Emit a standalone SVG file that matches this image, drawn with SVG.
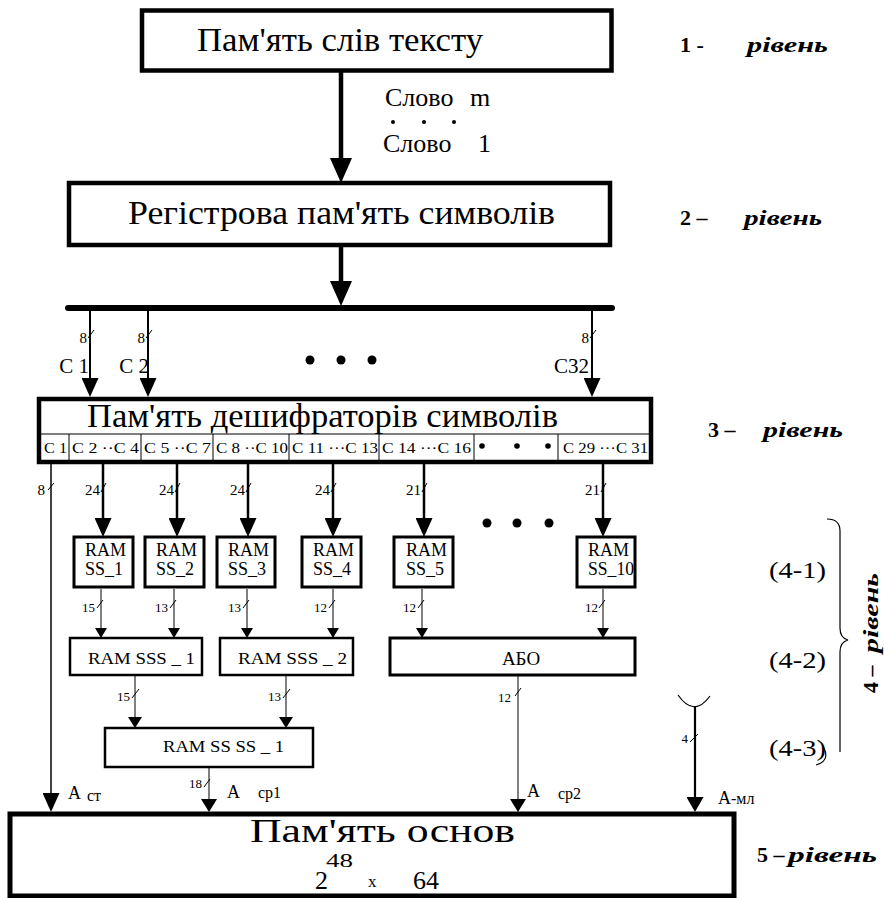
<svg xmlns="http://www.w3.org/2000/svg" width="884" height="898" viewBox="0 0 884 898" font-family="'Liberation Serif', 'Times New Roman', serif">
<defs>
<style>
text{fill:#000}
.box{fill:#fff;stroke:#000}
.ln{stroke:#000;fill:none}
.lv{font-weight:bold;font-size:22px}
.lvi{font-weight:bold;font-style:italic;font-size:22px}
.bw{font-size:15px}
.bs{font-size:13px}
.cell{font-size:14px}
.ram{font-size:18px}
.tk{stroke:#000;stroke-width:1;fill:none}
.big{font-size:33px}
</style>
<marker id="aL" viewBox="0 0 25 22" markerWidth="25" markerHeight="22" refX="0" refY="11" orient="auto" markerUnits="userSpaceOnUse"><path d="M0,0L25,11L0,22Z"/></marker>
<marker id="aM" viewBox="0 0 19 17" markerWidth="19" markerHeight="17" refX="0" refY="8.5" orient="auto" markerUnits="userSpaceOnUse"><path d="M0,0L19,8.5L0,17Z"/></marker>
<marker id="aM2" viewBox="0 0 15 17" markerWidth="15" markerHeight="17" refX="0" refY="8.5" orient="auto" markerUnits="userSpaceOnUse"><path d="M0,0L15,8.5L0,17Z"/></marker>
<marker id="aS" viewBox="0 0 10 12" markerWidth="10" markerHeight="12" refX="0" refY="6" orient="auto" markerUnits="userSpaceOnUse"><path d="M0,0L10,6L0,12Z"/></marker>
<marker id="aS1" viewBox="0 0 11 14" markerWidth="11" markerHeight="14" refX="0" refY="7" orient="auto" markerUnits="userSpaceOnUse"><path d="M0,0L11,7L0,14Z"/></marker>
<marker id="aS2" viewBox="0 0 13 16" markerWidth="13" markerHeight="16" refX="0" refY="8" orient="auto" markerUnits="userSpaceOnUse"><path d="M0,0L13,8L0,16Z"/></marker>
</defs>
<rect width="884" height="898" fill="#fff"/>

<g id="connectors">
  <line class="ln" x1="341" y1="72" x2="341" y2="158" stroke-width="4.5" marker-end="url(#aL)"/>
  <line class="ln" x1="341" y1="247" x2="341" y2="281" stroke-width="4.5" marker-end="url(#aL)"/>
  <line class="ln" x1="68" y1="308" x2="612" y2="308" stroke-width="6" stroke-linecap="round"/>
  <line class="ln" x1="90" y1="311" x2="90" y2="378" stroke-width="2" marker-end="url(#aM)"/>
  <line class="ln" x1="148" y1="311" x2="148" y2="378" stroke-width="2" marker-end="url(#aM)"/>
  <line class="ln" x1="592" y1="311" x2="592" y2="378" stroke-width="2" marker-end="url(#aM)"/>
  <line class="ln" x1="51" y1="464" x2="51" y2="793" stroke-width="1.5" marker-end="url(#aM)"/>
  <line class="ln" x1="103" y1="464" x2="103" y2="518" stroke-width="2.5" marker-end="url(#aM)"/>
  <line class="ln" x1="177" y1="464" x2="177" y2="518" stroke-width="2.5" marker-end="url(#aM)"/>
  <line class="ln" x1="248" y1="464" x2="248" y2="518" stroke-width="2.5" marker-end="url(#aM)"/>
  <line class="ln" x1="333" y1="464" x2="333" y2="518" stroke-width="2.5" marker-end="url(#aM)"/>
  <line class="ln" x1="424" y1="464" x2="424" y2="518" stroke-width="2.5" marker-end="url(#aM)"/>
  <line class="ln" x1="603" y1="464" x2="603" y2="518" stroke-width="2.5" marker-end="url(#aM)"/>
  <line class="ln" x1="101" y1="589" x2="101" y2="628" stroke-width="1" marker-end="url(#aS)"/>
  <line class="ln" x1="174" y1="589" x2="174" y2="628" stroke-width="1" marker-end="url(#aS)"/>
  <line class="ln" x1="247" y1="589" x2="247" y2="628" stroke-width="1" marker-end="url(#aS)"/>
  <line class="ln" x1="333" y1="589" x2="333" y2="628" stroke-width="1" marker-end="url(#aS)"/>
  <line class="ln" x1="422" y1="589" x2="422" y2="628" stroke-width="1" marker-end="url(#aS)"/>
  <line class="ln" x1="603" y1="589" x2="603" y2="628" stroke-width="1" marker-end="url(#aS)"/>
  <line class="ln" x1="135" y1="676" x2="135" y2="717" stroke-width="1" marker-end="url(#aS1)"/>
  <line class="ln" x1="286" y1="676" x2="286" y2="717" stroke-width="1" marker-end="url(#aS1)"/>
  <line class="ln" x1="209" y1="768" x2="209" y2="799" stroke-width="1" marker-end="url(#aS2)"/>
  <line class="ln" x1="518" y1="676" x2="518" y2="799" stroke-width="1" marker-end="url(#aS2)"/>
  <line class="ln" x1="695" y1="706" x2="695" y2="797" stroke-width="2.2" marker-end="url(#aM2)"/>
  <path class="ln" d="M678,695 Q694,718 710,696" stroke-width="1.2"/>
  <g class="tk">
    <path d="M88,338L94,330"/><path d="M146,338L152,330"/><path d="M590,338L596,330"/>
    <path d="M48,490L54,483"/>
    <path d="M101,492L106,483"/><path d="M175,492L180,483"/><path d="M246,492L251,483"/><path d="M331,492L336,483"/><path d="M422,492L427,483"/><path d="M601,492L606,483"/>
    <path d="M97,608L103,600"/><path d="M170,608L176,600"/><path d="M243,608L249,600"/><path d="M329,608L335,600"/><path d="M418,608L424,600"/><path d="M599,608L605,600"/>
    <path d="M132,698L139,689"/><path d="M283,698L290,689"/><path d="M515,696L521,688"/><path d="M204,787L210,779"/><path d="M690,742L698,734"/>
  </g>
  <g class="bw">
    <text x="87" y="343" text-anchor="end">8</text>
    <text x="145" y="343" text-anchor="end">8</text>
    <text x="589" y="343" text-anchor="end">8</text>
    <text x="45" y="495" text-anchor="end">8</text>
    <text x="100" y="495" text-anchor="end">24</text>
    <text x="174" y="495" text-anchor="end">24</text>
    <text x="245" y="495" text-anchor="end">24</text>
    <text x="330" y="495" text-anchor="end">24</text>
    <text x="421" y="495" text-anchor="end">21</text>
    <text x="600" y="495" text-anchor="end">21</text>
  </g>
  <g class="bs">
    <text x="95" y="612" text-anchor="end">15</text>
    <text x="168" y="612" text-anchor="end">13</text>
    <text x="241" y="612" text-anchor="end">13</text>
    <text x="327" y="612" text-anchor="end">12</text>
    <text x="416" y="612" text-anchor="end">12</text>
    <text x="598" y="612" text-anchor="end">12</text>
    <text x="130" y="701" text-anchor="end">15</text>
    <text x="281" y="701" text-anchor="end">13</text>
    <text x="511" y="702" text-anchor="end">12</text>
    <text x="202" y="788" text-anchor="end">18</text>
    <text x="688" y="743" text-anchor="end">4</text>
  </g>
  <text x="385" y="106" font-size="26">Слово</text>
  <text x="470" y="106" font-size="26">m</text>
  <circle cx="393" cy="122" r="2"/><circle cx="424" cy="122" r="2"/><circle cx="454" cy="122" r="2"/>
  <text x="383" y="152" font-size="26">Слово</text>
  <text x="478" y="152" font-size="26">1</text>
  <text x="89" y="373" font-size="21" text-anchor="end">C 1</text>
  <text x="149" y="373" font-size="21" text-anchor="end">C 2</text>
  <text x="589" y="373" font-size="21" text-anchor="end">C32</text>
  <circle cx="310" cy="360" r="4.5"/><circle cx="341" cy="360" r="4.5"/><circle cx="372" cy="360" r="4.5"/>
  <circle cx="487" cy="523" r="4.5"/><circle cx="517" cy="523" r="4.5"/><circle cx="549" cy="523" r="4.5"/>
  <text x="68" y="799" font-size="18">А</text><text x="87" y="801" font-size="16">ст</text>
  <text x="227" y="798" font-size="18">А</text><text x="258" y="798" font-size="16">ср1</text>
  <text x="527" y="797" font-size="18">А</text><text x="558" y="799" font-size="16">ср2</text>
  <text x="718" y="804" font-size="18">А<tspan font-size="16">-мл</tspan></text>
</g>

<g id="n1">
  <rect class="box" x="142" y="10.5" width="469.5" height="60" stroke-width="4.5"/>
  <text class="big" x="197" y="51" textLength="286" lengthAdjust="spacingAndGlyphs">Пам'ять слів тексту</text>
</g>
<g id="n2">
  <rect class="box" x="69" y="183" width="541" height="62" stroke-width="4.5"/>
  <text class="big" x="128" y="224" textLength="427" lengthAdjust="spacingAndGlyphs">Регістрова пам'ять символів</text>
</g>
<g id="n3">
  <rect class="box" x="39" y="399" width="612" height="63" stroke-width="4.5"/>
  <text class="big" x="87" y="427" textLength="471" lengthAdjust="spacingAndGlyphs">Пам'ять дешифраторів символів</text>
  <g class="ln" stroke-width="1">
    <line x1="41" y1="434" x2="649" y2="434"/>
    <line x1="69" y1="434" x2="69" y2="460"/>
    <line x1="141" y1="434" x2="141" y2="460"/>
    <line x1="213" y1="434" x2="213" y2="460"/>
    <line x1="289" y1="434" x2="289" y2="460"/>
    <line x1="379" y1="434" x2="379" y2="460"/>
    <line x1="474" y1="434" x2="474" y2="460"/>
    <line x1="558" y1="434" x2="558" y2="460"/>
  </g>
  <g class="cell">
    <text x="44" y="453" textLength="23" lengthAdjust="spacingAndGlyphs">C 1</text>
    <text x="72" y="453" textLength="67" lengthAdjust="spacingAndGlyphs">C 2 ··C 4</text>
    <text x="144" y="453" textLength="67" lengthAdjust="spacingAndGlyphs">C 5 ··C 7</text>
    <text x="216" y="453" textLength="72" lengthAdjust="spacingAndGlyphs">C 8 ··C 10</text>
    <text x="292" y="453" textLength="86" lengthAdjust="spacingAndGlyphs">C 11 ···C 13</text>
    <text x="382" y="453" textLength="89" lengthAdjust="spacingAndGlyphs">C 14 ···C 16</text>
    <text x="563" y="453" textLength="85" lengthAdjust="spacingAndGlyphs">C 29 ···C 31</text>
  </g>
  <circle cx="482" cy="446" r="2.8"/><circle cx="517" cy="446" r="2.8"/><circle cx="548" cy="446" r="2.8"/>
</g>
<g id="ss1"><rect class="box" x="74" y="537" width="59" height="50" stroke-width="3"/><text class="ram" x="85" y="556">RAM</text><text class="ram" x="85" y="575">SS_1</text></g>
<g id="ss2"><rect class="box" x="145" y="537" width="59" height="50" stroke-width="3"/><text class="ram" x="156" y="556">RAM</text><text class="ram" x="156" y="575">SS_2</text></g>
<g id="ss3"><rect class="box" x="217" y="537" width="58" height="50" stroke-width="3"/><text class="ram" x="228" y="556">RAM</text><text class="ram" x="228" y="575">SS_3</text></g>
<g id="ss4"><rect class="box" x="302" y="537" width="59" height="50" stroke-width="3"/><text class="ram" x="313" y="556">RAM</text><text class="ram" x="313" y="575">SS_4</text></g>
<g id="ss5"><rect class="box" x="394" y="537" width="59" height="50" stroke-width="3"/><text class="ram" x="406" y="556">RAM</text><text class="ram" x="406" y="575">SS_5</text></g>
<g id="ss10"><rect class="box" x="577" y="537" width="58" height="50" stroke-width="3"/><text class="ram" x="588" y="556">RAM</text><text class="ram" x="588" y="575" textLength="46" lengthAdjust="spacingAndGlyphs">SS_10</text></g>
<g id="sss1"><rect class="box" x="70" y="638" width="132" height="37" stroke-width="2.5"/><text x="88" y="664" font-size="17" textLength="107" lengthAdjust="spacingAndGlyphs">RAM SSS _ 1</text></g>
<g id="sss2"><rect class="box" x="220" y="638" width="133" height="37" stroke-width="2.5"/><text x="238" y="664" font-size="17" textLength="109" lengthAdjust="spacingAndGlyphs">RAM SSS _ 2</text></g>
<g id="abo"><rect class="box" x="390" y="638" width="245" height="37" stroke-width="3"/><text x="521" y="665" font-size="19" text-anchor="middle">АБО</text></g>
<g id="ssss1"><rect class="box" x="105" y="728" width="208" height="39" stroke-width="2.5"/><text x="163" y="752" font-size="17" textLength="121" lengthAdjust="spacingAndGlyphs">RAM SS SS _ 1</text></g>
<g id="n5">
  <rect class="box" x="10" y="814" width="724" height="82" stroke-width="5"/>
  <text x="250" y="842" font-size="34" textLength="265" lengthAdjust="spacingAndGlyphs">Пам'ять основ</text>
  <text x="315" y="889" font-size="26">2</text>
  <text x="326" y="867" font-size="19" textLength="27" lengthAdjust="spacingAndGlyphs">48</text>
  <text x="368" y="887" font-size="17">x</text>
  <text x="413" y="889" font-size="26">64</text>
</g>
<g id="levels">
  <text class="lv" x="680" y="52">1 -</text><text class="lvi" x="747" y="52" textLength="81" lengthAdjust="spacingAndGlyphs">рівень</text>
  <text class="lv" x="680" y="225">2 –</text><text class="lvi" x="744" y="225" textLength="78" lengthAdjust="spacingAndGlyphs">рівень</text>
  <text class="lv" x="708" y="437">3 –</text><text class="lvi" x="763" y="437" textLength="80" lengthAdjust="spacingAndGlyphs">рівень</text>
  <text class="lv" x="757" y="862">5 –</text><text class="lvi" x="788" y="862" textLength="89" lengthAdjust="spacingAndGlyphs">рівень</text>
  <text x="769" y="578" font-size="24" textLength="57" lengthAdjust="spacingAndGlyphs">(4-1)</text>
  <text x="769" y="668" font-size="24" textLength="57" lengthAdjust="spacingAndGlyphs">(4-2)</text>
  <text x="769" y="756" font-size="24" textLength="57" lengthAdjust="spacingAndGlyphs">(4-3)</text>
  <path class="ln" stroke-width="1.2" d="M827,519 Q840,519 840,531 L840,628 Q840,638 848,640 Q840,642 840,652 L840,752"/>
  <path class="ln" stroke-width="1.2" d="M824,748 Q830,761 816,765"/>
  <g transform="translate(878,693) rotate(-90)">
    <text class="lv" x="0" y="0">4 –</text>
    <text class="lvi" x="40" y="0" textLength="80" lengthAdjust="spacingAndGlyphs">рівень</text>
  </g>
</g>
</svg>
